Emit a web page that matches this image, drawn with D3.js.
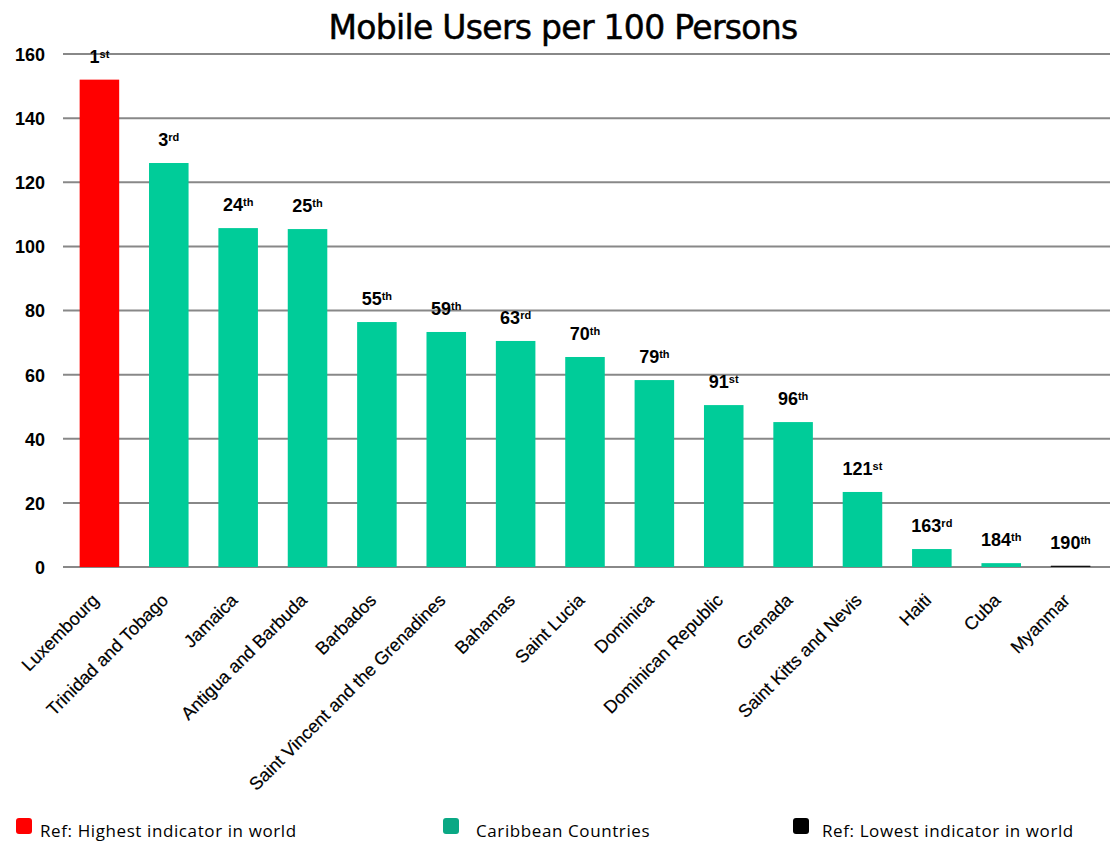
<!DOCTYPE html>
<html>
<head>
<meta charset="utf-8">
<script src="https://cdn.jsdelivr.net/npm/d3@7"></script>
<style>
  body { margin: 0; background: #fff; }
  text { font-family: "Liberation Sans", Arial, sans-serif; }
</style>
</head>
<body>
<script>
var width = 1110,
    height = 846;

// chart data
var countries = ["Luxembourg", "Trinidad and Tobago", "Jamaica", "Antigua and Barbuda", "Barbados",
    "Saint Vincent and the Grenadines", "Bahamas", "Saint Lucia", "Dominica", "Dominican Republic",
    "Grenada", "Saint Kitts and Nevis", "Haiti", "Cuba", "Myanmar"];
var users = [152, 126, 105.7, 105.4, 76.4, 73.3, 70.5, 65.5, 58.3, 50.5, 45.2, 23.4, 5.6, 1.2, 0.4];
var rankNum = ["1", "3", "24", "25", "55", "59", "63", "70", "79", "91", "96", "121", "163", "184", "190"];
var rankSuffix = ["st", "rd", "th", "th", "th", "th", "rd", "th", "th", "st", "th", "st", "rd", "th", "th"];
var group = ["high", "car", "car", "car", "car", "car", "car", "car", "car", "car", "car", "car", "car", "car", "low"];
var yTicks = [0, 20, 40, 60, 80, 100, 120, 140, 160];
var legendLabels = ["Ref: Highest indicator in world", "Caribbean Countries", "Ref: Lowest indicator in world"];

var barColor = { high: "#ff0000", car: "#00cc99", low: "#111111" };
var legendColor = ["#ff0000", "#0aa884", "#000000"];

var svg = d3.select("body").append("svg")
    .attr("width", width)
    .attr("height", height);

var x = d3.scaleBand()
    .domain(countries)
    .range([63, 1107])
    .paddingInner(0.43)
    .paddingOuter(0.24);

var y = d3.scaleLinear()
    .domain([0, 160])
    .range([567, 54]);

// title
svg.append("text")
    .attr("x", 563)
    .attr("y", 39)
    .attr("text-anchor", "middle")
    .style("font-size", "33px")
    .style("font-family", "'DejaVu Sans', sans-serif")
    .style("letter-spacing", "-0.7px")
    .style("stroke", "#000")
    .style("stroke-width", "0.5px")
    .text("Mobile Users per 100 Persons");

// gridlines
svg.append("g")
    .selectAll("line")
    .data(yTicks)
    .enter().append("line")
    .attr("x1", 63)
    .attr("x2", 1110)
    .attr("y1", function(d) { return y(d); })
    .attr("y2", function(d) { return y(d); })
    .attr("stroke", "#888888")
    .attr("stroke-width", 2);

// y axis labels
var yAxis = d3.axisLeft(y).tickValues(yTicks).tickSize(0).tickPadding(0);
svg.append("g")
    .attr("transform", "translate(45,0)")
    .call(yAxis)
    .call(function(g) { g.select(".domain").remove(); })
    .selectAll("text")
    .attr("dy", "0.36em")
    .style("font-size", "18px")
    .style("font-weight", "bold")
    .style("fill", "#000");

// bars
svg.append("g")
    .selectAll("rect")
    .data(countries)
    .enter().append("rect")
    .attr("x", function(d) { return x(d); })
    .attr("width", x.bandwidth())
    .attr("y", function(d, i) { return y(users[i]); })
    .attr("height", function(d, i) { return y(0) - y(users[i]); })
    .attr("fill", function(d, i) { return barColor[group[i]]; });

// rank labels
var ranks = svg.append("g")
    .selectAll("text")
    .data(countries)
    .enter().append("text")
    .attr("x", function(d) { return x(d) + x.bandwidth() / 2; })
    .attr("y", function(d, i) { return y(users[i]) - 17; })
    .attr("text-anchor", "middle")
    .style("font-size", "18px")
    .style("font-weight", "bold");
ranks.append("tspan").text(function(d, i) { return rankNum[i]; });
ranks.append("tspan")
    .attr("dy", "-0.45em")
    .style("font-size", "11px")
    .text(function(d, i) { return rankSuffix[i]; });

// category labels
svg.append("g")
    .selectAll("text")
    .data(countries)
    .enter().append("text")
    .attr("transform", function(d) {
        return "translate(" + (x(d) + x.bandwidth() / 2 - 4) + ",597) rotate(-45)";
    })
    .attr("text-anchor", "end")
    .attr("dy", "0.35em")
    .style("font-size", "18px")
    .style("stroke", "#000")
    .style("stroke-width", "0.2px")
    .text(function(d) { return d; });

// legend
var legendX = [16, 443, 793];
var textOff = [24, 33, 29];
var lg = svg.append("g")
    .selectAll("g")
    .data(legendLabels)
    .enter().append("g")
    .attr("transform", function(d, i) { return "translate(" + legendX[i] + ",818)"; });
lg.append("rect")
    .attr("width", 16)
    .attr("height", 16)
    .attr("rx", 3)
    .attr("fill", function(d, i) { return legendColor[i]; });
lg.append("text")
    .attr("x", function(d, i) { return textOff[i]; })
    .attr("y", 19)
    .style("font-family", "'Open Sans', sans-serif")
    .style("font-size", "17px")
    .style("letter-spacing", "0.6px")
    .text(function(d) { return d; });
</script>
</body>
</html>
